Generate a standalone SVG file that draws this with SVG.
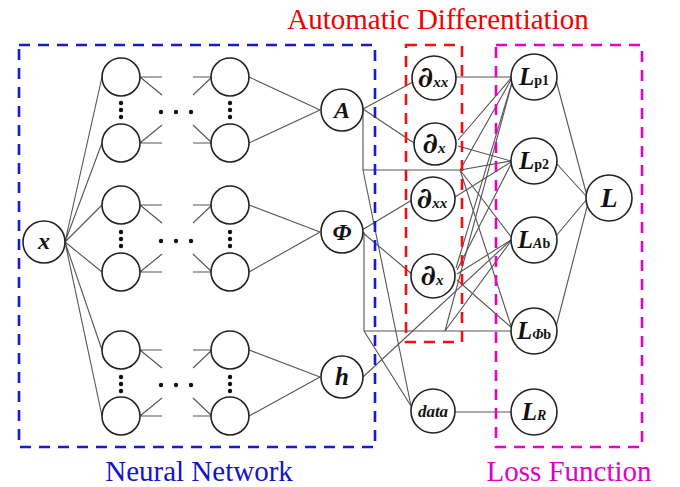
<svg xmlns="http://www.w3.org/2000/svg" width="680" height="487" viewBox="0 0 680 487">
<style>
.c{fill:#fff;stroke:#222;stroke-width:1.6}
.w{stroke:#555;stroke-width:1.1;fill:none}
.lb{font-family:"Liberation Serif","Times New Roman",serif;font-weight:bold;font-style:italic;text-anchor:middle;fill:#111}
.d{font-family:"DejaVu Serif",serif;font-weight:bold;font-style:italic;font-size:29px}
.up{font-style:normal}
.box{fill:none;stroke-width:2.6;stroke-dasharray:11 8}
.ttl{font-family:"Liberation Serif","Times New Roman",serif;font-size:29px;text-anchor:middle}
.dot{fill:#111}
</style>
<rect width="680" height="487" fill="#fff"/>
<g id="connectors" class="w">
<path d="M65 242L102 77M65 242L102 143M65 242L102 205M65 242L102 272M65 242L102 350M65 242L102 416"/>
<path d="M140 77H162M140 77L162 95M140 143H162M140 143L162 125M140 205H162M140 205L162 223M140 272H162M140 272L162 254M140 350H162M140 350L162 368M140 416H162M140 416L162 398"/>
<path d="M193 77H212M193 95L212 77M193 143H212M193 125L212 143M193 205H212M193 223L212 205M193 272H212M193 254L212 272M193 350H212M193 368L212 350M193 416H212M193 398L212 416"/>
<path d="M249 77L320 110M249 143L320 110M249 205L320 232M249 272L320 232M249 350L320 377M249 416L320 377"/>
<path d="M363 109L413 82M363 109L414 143M363 109V170H460M363 170L411 406"/>
<path d="M362 230L412 200M362 232L413 275M364 232V331H511M364 331L411 406"/>
<path d="M363 377L511 240"/>
<path d="M456 77H511"/>
<path d="M458 140L512 77M458 146L511 161"/>
<path d="M460 170L512 78M460 170L511 161M460 170L512 238M460 170L512 329"/>
<path d="M455 197L511 162"/>
<path d="M456 268L513 79M457 270L512 162M457 274L511 240M457 280L512 328"/>
<path d="M445 331L513 79M445 331L511 241"/>
<path d="M455 412H511"/>
<path d="M556 80L587 196M556 163L587 197M556 236L587 199M556 327L588 203"/>
</g>
<g id="boxes">
<rect class="box" x="19" y="45" width="356" height="402" stroke="#1a1ad4"/>
<rect class="box" x="406" y="45" width="56" height="297" stroke="#f01010"/>
<rect class="box" x="496" y="45" width="146" height="402" stroke="#e600c8"/>
</g>
<g id="titles">
<text class="ttl" x="438" y="29" fill="#f00000">Automatic Differentiation</text>
<text class="ttl" x="199" y="481" fill="#1414c8">Neural Network</text>
<text class="ttl" x="569" y="481" fill="#e000c8">Loss Function</text>
</g>
<g id="hidden">
<circle class="c" cx="121" cy="77" r="19"/><circle class="c" cx="121" cy="143" r="19"/>
<circle class="c" cx="121" cy="205" r="19"/><circle class="c" cx="121" cy="272" r="19"/>
<circle class="c" cx="121" cy="350" r="19"/><circle class="c" cx="121" cy="416" r="19"/>
<circle class="c" cx="230" cy="77" r="19"/><circle class="c" cx="230" cy="143" r="19"/>
<circle class="c" cx="230" cy="205" r="19"/><circle class="c" cx="230" cy="272" r="19"/>
<circle class="c" cx="230" cy="350" r="19"/><circle class="c" cx="230" cy="416" r="19"/>
</g>
<g id="dots" class="dot">
<circle cx="121" cy="103" r="2.2"/><circle cx="121" cy="110" r="2.2"/><circle cx="121" cy="117" r="2.2"/>
<circle cx="230" cy="103" r="2.2"/><circle cx="230" cy="110" r="2.2"/><circle cx="230" cy="117" r="2.2"/>
<circle cx="161" cy="112" r="2.2"/><circle cx="176" cy="112" r="2.2"/><circle cx="191" cy="112" r="2.2"/>
<circle cx="121" cy="232" r="2.2"/><circle cx="121" cy="239" r="2.2"/><circle cx="121" cy="246" r="2.2"/>
<circle cx="230" cy="232" r="2.2"/><circle cx="230" cy="239" r="2.2"/><circle cx="230" cy="246" r="2.2"/>
<circle cx="161" cy="241" r="2.2"/><circle cx="176" cy="241" r="2.2"/><circle cx="191" cy="241" r="2.2"/>
<circle cx="121" cy="377" r="2.2"/><circle cx="121" cy="384" r="2.2"/><circle cx="121" cy="391" r="2.2"/>
<circle cx="230" cy="377" r="2.2"/><circle cx="230" cy="384" r="2.2"/><circle cx="230" cy="391" r="2.2"/>
<circle cx="161" cy="385" r="2.2"/><circle cx="176" cy="385" r="2.2"/><circle cx="191" cy="385" r="2.2"/>
</g>
<g id="node-x"><circle class="c" cx="44" cy="242" r="21"/><text class="lb" x="44" y="249" font-size="24">x</text></g>
<g id="node-A"><circle class="c" cx="342" cy="110" r="21"/><text class="lb" x="342" y="118" font-size="24">A</text></g>
<g id="node-Phi"><circle class="c" cx="342" cy="232" r="21"/><text class="lb" x="342" y="240" font-size="24">Φ</text></g>
<g id="node-h"><circle class="c" cx="342" cy="377" r="21"/><text class="lb" x="342" y="385" font-size="25">h</text></g>
<g id="node-dxx1"><circle class="c" cx="434" cy="78" r="22"/><text class="lb" x="433" y="87" font-size="24"><tspan class="d">∂</tspan><tspan font-size="15">xx</tspan></text></g>
<g id="node-dx1"><circle class="c" cx="435" cy="144" r="21"/><text class="lb" x="434" y="153" font-size="24"><tspan class="d">∂</tspan><tspan font-size="15">x</tspan></text></g>
<g id="node-dxx2"><circle class="c" cx="433" cy="199" r="22"/><text class="lb" x="432" y="208" font-size="24"><tspan class="d">∂</tspan><tspan font-size="15">xx</tspan></text></g>
<g id="node-dx2"><circle class="c" cx="433" cy="276" r="22"/><text class="lb" x="432" y="285" font-size="24"><tspan class="d">∂</tspan><tspan font-size="15">x</tspan></text></g>
<g id="node-data"><circle class="c" cx="433" cy="411" r="22"/><text class="lb" x="433" y="417" font-size="17">data</text></g>
<g id="node-Lp1"><circle class="c" cx="534" cy="77" r="23"/><text class="lb" x="534" y="85" font-size="25">L<tspan class="up" font-size="14">p1</tspan></text></g>
<g id="node-Lp2"><circle class="c" cx="534" cy="161" r="23"/><text class="lb" x="534" y="169" font-size="25">L<tspan class="up" font-size="14">p2</tspan></text></g>
<g id="node-LAb"><circle class="c" cx="534" cy="240" r="23"/><text class="lb" x="534" y="248" font-size="25">L<tspan font-size="14">A</tspan><tspan class="up" font-size="14">b</tspan></text></g>
<g id="node-LPhib"><circle class="c" cx="534" cy="331" r="23"/><text class="lb" x="534" y="339" font-size="25">L<tspan font-size="14">Φ</tspan><tspan class="up" font-size="14">b</tspan></text></g>
<g id="node-LR"><circle class="c" cx="534" cy="412" r="23"/><text class="lb" x="534" y="420" font-size="25">L<tspan font-size="14">R</tspan></text></g>
<g id="node-L"><circle class="c" cx="609" cy="198" r="23"/><text class="lb" x="609" y="207" font-size="28">L</text></g>
</svg>
